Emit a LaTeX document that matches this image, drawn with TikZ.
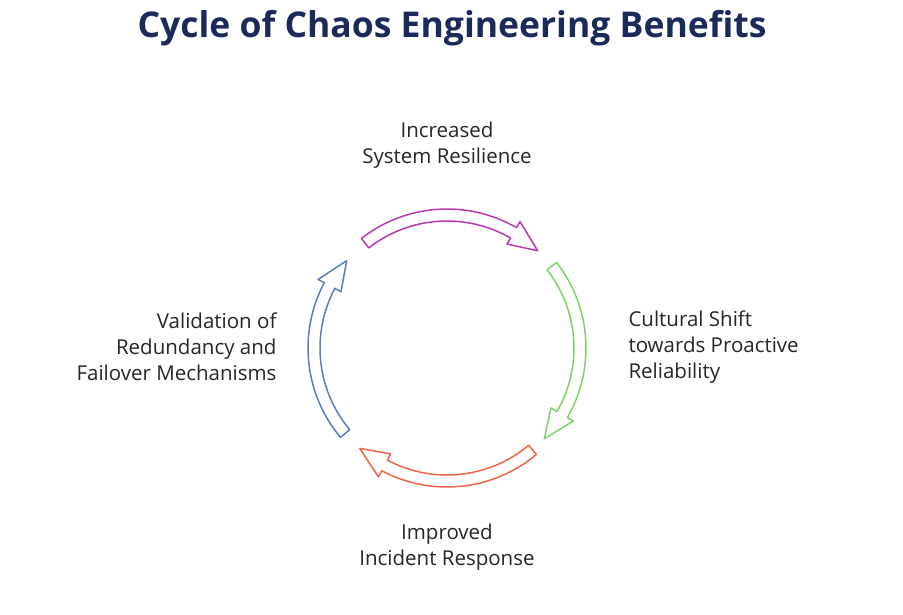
\documentclass[tikz,border=0pt]{standalone}
\usepackage{fontspec}
\setmainfont{Open Sans}
\definecolor{titleblue}{HTML}{1B2A5A}
\definecolor{cmagenta}{HTML}{B83AAE}
\definecolor{cgreen}{HTML}{7DD36A}
\definecolor{cred}{HTML}{F0644A}
\definecolor{cblue}{HTML}{5B7BC8}
\tikzset{
  label text/.style={font=\fontsize{20.5}{26}\selectfont, text=black!85, align=center},
  ring arrow/.style={draw=#1, fill=white, line width=1.5pt, line join=round}
}
\begin{document}
\begin{tikzpicture}[x=1pt,y=-1pt]
\useasboundingbox (0,0) rectangle (903,615);
\node[font=\fontsize{35.5}{40}\selectfont\bfseries, text=titleblue] (title) at (452,28) {Cycle of Chaos Engineering Benefits};
% four curved arrows round the cycle
\begin{scope}[shift={(447,348)},y=1pt]
\foreach \c/\col in {88/cmagenta, -2/cgreen, -90/cred, 180/cblue}{
  \pgfmathsetmacro{\a}{\c+40}
  \pgfmathsetmacro{\h}{\c-28}
  \pgfmathsetmacro{\e}{\c-41}
  \draw[ring arrow=\col] (\a:139) arc[start angle=\a, end angle=\h, radius=139]
    -- (\h:146) -- (\e:133) -- (\h:120) -- (\h:127)
    arc[start angle=\h, end angle=\a, radius=127] -- cycle;
}
\end{scope}
\node[label text] (top) at (447,145) {Increased\\System Resilience};
\node[label text, anchor=west, align=left] (right) at (625,347) {Cultural Shift\\towards Proactive\\Reliability};
\node[label text] (bottom) at (447,547) {Improved\\Incident Response};
\node[label text, anchor=east, align=right] (left) at (280,347) {Validation of\\Redundancy and\\Failover Mechanisms};
\end{tikzpicture}
\end{document}
